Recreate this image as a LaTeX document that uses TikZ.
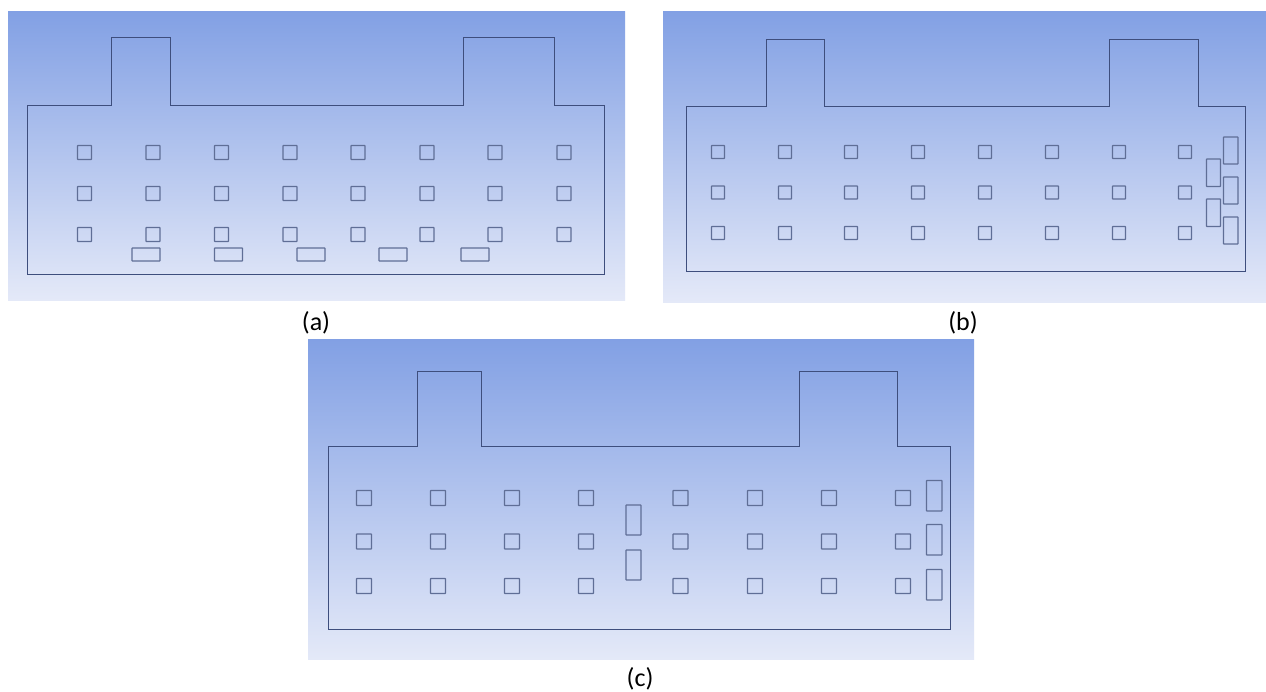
\documentclass[tikz,border=0pt]{standalone}
\usepackage{fontspec}
\setmainfont{Carlito}
\definecolor{bgtop}{RGB}{130,160,228}
\definecolor{bgbot}{RGB}{228,233,248}
\definecolor{edge}{RGB}{62,78,125}
\definecolor{edgelight}{RGB}{95,110,150}
\tikzset{
  panelbg/.style={top color=bgtop,bottom color=bgbot,draw=none},
  outline/.style={draw=edge,line width=1pt,line join=miter},
  hole/.style={draw=edgelight,line width=1.1pt,rounded corners=0.3pt},
  caption/.style={font=\fontsize{26}{28}\selectfont,text=black,inner sep=0pt}
}
\begin{document}
\begin{tikzpicture}[x=1pt,y=-1pt]
\useasboundingbox (0,0) rectangle (1266,691);
\fill[white] (0,0) rectangle (1266,691);
% panel a
\path[panelbg] (8,11) rectangle (625,300);
\draw[outline] (27,105) -- (111,105) -- (111,37) -- (170,37) -- (170,105) -- (463,105) -- (463,37) -- (554,37) -- (554,105) -- (604,105) -- (604,274) -- (27,274) -- cycle;
\foreach \x in {84.5,153,221.5,290,358,427,495,564}
  \foreach \y in {152.5,193.5,234.5}
    \draw[hole] (\x-7,\y-7) rectangle (\x+7,\y+7);
\foreach \x in {132,214.5,297,379,461}
  \draw[hole] (\x,248) rectangle (\x+28,261);
\node[caption] (capa) at (316,323) {(a)};
% panel b
\path[panelbg] (663,11) rectangle (1266,302);
\draw[outline] (686,106) -- (766,106) -- (766,39) -- (824,39) -- (824,106) -- (1109,106) -- (1109,39) -- (1198,39) -- (1198,106) -- (1245,106) -- (1245,271) -- (686,271) -- cycle;
\foreach \x in {718,785,851,918,985,1052,1119,1185}
  \foreach \y in {152,192.5,233}
    \draw[hole] (\x-6.5,\y-6.5) rectangle (\x+6.5,\y+6.5);
\foreach \y in {137,177,217}
  \draw[hole] (1223.5,\y) rectangle (1238,\y+27);
\foreach \y in {159,199}
  \draw[hole] (1206.5,\y) rectangle (1220.5,\y+27.5);
\node[caption] (capb) at (963,323) {(b)};
% panel c
\path[panelbg] (308,339) rectangle (974,659);
\draw[outline] (328,446) -- (417,446) -- (417,371) -- (481,371) -- (481,446) -- (799,446) -- (799,371) -- (897,371) -- (897,446) -- (950,446) -- (950,629) -- (328,629) -- cycle;
\foreach \x in {364,438,512,586,680.5,755,829,903}
  \foreach \y in {498,541.5,586}
    \draw[hole] (\x-7.5,\y-7.5) rectangle (\x+7.5,\y+7.5);
\foreach \y in {505,550}
  \draw[hole] (626,\y) rectangle (641,\y+30);
\foreach \y in {480.5,524.5,569.5}
  \draw[hole] (926.5,\y) rectangle (942,\y+30.5);
\node[caption] (capc) at (640,679) {(c)};
\end{tikzpicture}
\end{document}
